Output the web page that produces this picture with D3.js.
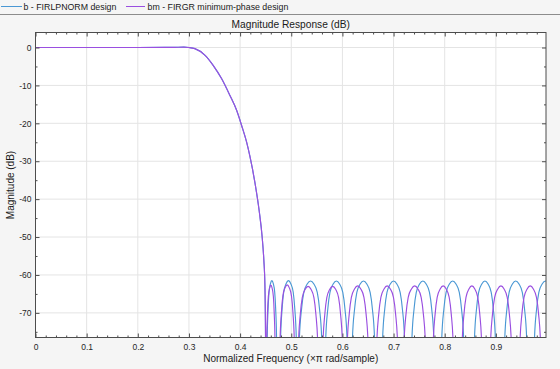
<!DOCTYPE html>
<html><head><meta charset="utf-8">
<script src="https://cdn.jsdelivr.net/npm/d3@7"></script>
<style>
html,body{margin:0;padding:0;background:#f5f5f5;}
svg{display:block;font-family:"Liberation Sans",Arial,Helvetica,sans-serif;}
</style></head><body>
<svg id="c" width="560" height="369"></svg>
<script>
// ---- data ----
const legendLabels = ["b - FIRLPNORM design", "bm - FIRGR minimum-phase design"];
const seriesColors = ["#4a98d4", "#9a4fe0"];

const xMajor = [0, 0.1, 0.2, 0.3, 0.4, 0.5, 0.6, 0.7, 0.8, 0.9];
const xTickLabels = ["0", "0.1", "0.2", "0.3", "0.4", "0.5", "0.6", "0.7", "0.8", "0.9"];
const yMajor = [0, -10, -20, -30, -40, -50, -60, -70];
const yTickLabels = ["0", "-10", "-20", "-30", "-40", "-50", "-60", "-70"];

// passband + transition band (shared by both designs)
const passFreq = [0, 0.1, 0.2, 0.27, 0.29, 0.300, 0.3115, 0.331, 0.3473, 0.3637, 0.3799, 0.393, 0.4028, 0.4126, 0.419, 0.4288, 0.4372, 0.4431, 0.4464, 0.4484, 0.4497, 0.4505];
const passDb   = [0, 0, 0, 0.05, 0.1, 0, -0.3, -2.0, -4.7, -8.2, -12.6, -16.5, -20.5, -24.9, -28.6, -35.5, -43.0, -50.0, -56.1, -62.3, -76.5, -100];

// stopband lobes: peak frequency, peak level, half-width at the plot floor
const bLobeFreq = [0.4621, 0.4945, 0.5377, 0.5882, 0.6412, 0.7000, 0.7573, 0.8156, 0.8786, 0.9388, 0.9969];
const bLobeDb   = [-61.5, -61.5, -61.6, -61.6, -61.6, -61.6, -61.6, -61.6, -61.6, -61.6, -61.6];
const bLobeHalf = [0.0092, 0.0154, 0.0219, 0.0209, 0.0217, 0.0215, 0.0215, 0.0215, 0.0205, 0.0215, 0.0215];

const bmLobeFreq = [0.4601, 0.4920, 0.5329, 0.5810, 0.6298, 0.6875, 0.7413, 0.7970, 0.8531, 0.9099, 0.9672];
const bmLobeDb   = [-62.7, -62.6, -63.0, -63.0, -62.9, -62.9, -62.9, -62.9, -62.9, -62.9, -62.9];
const bmLobeHalf = [0.0082, 0.0141, 0.0190, 0.0192, 0.0205, 0.0205, 0.0211, 0.0196, 0.0192, 0.0205, 0.0203];

// lobe outline measured on one lobe: offset (in half-widths) and drop below peak (dB)
const lobeFrac = [-1.15, -1, -0.8, -0.6, -0.3, 0, 0.3, 0.6, 0.8, 1, 1.15];
const lobeDrop = [40, 15.5, 7.3, 3, 0.8, 0, 0.8, 3, 7.3, 15.5, 40];

// ---- build series ----
function buildSeries(fs, dbs, hws) {
  const pts = passFreq.map((f, i) => [f, passDb[i]]);
  fs.forEach((f, k) => {
    lobeFrac.forEach((u, j) => pts.push([f + u * hws[k], dbs[k] - lobeDrop[j]]));
  });
  return pts;
}
const series = [
  buildSeries(bLobeFreq, bLobeDb, bLobeHalf),
  buildSeries(bmLobeFreq, bmLobeDb, bmLobeHalf)
];

// ---- layout ----
const svg = d3.select("#c");
const L = 35.5, R = 546, T = 32.5, B = 337.5;
const x = d3.scaleLinear().domain([0, 0.998]).range([L, R]);
const y = d3.scaleLinear().domain([-76.5, 3.96]).range([B, T]);

svg.append("rect").attr("width", 560).attr("height", 369).attr("fill", "#f5f5f5");

// legend bar
svg.append("line").attr("x1", 0).attr("x2", 560).attr("y1", 14.5).attr("y2", 14.5)
  .attr("stroke", "#8c8c8c").attr("stroke-width", 1);
const legX = [[1, 22, 23.5], [126, 145, 147.5]];
legendLabels.forEach((t, i) => {
  svg.append("line").attr("x1", legX[i][0]).attr("x2", legX[i][1]).attr("y1", 6.5).attr("y2", 6.5)
    .attr("stroke", seriesColors[i]).attr("stroke-width", 1);
  svg.append("text").attr("x", legX[i][2]).attr("y", 10.3).attr("font-size", 8.8)
    .attr("fill", "#1a1a1a").text(t);
});

// plot background
svg.append("rect").attr("x", L).attr("y", T).attr("width", R - L).attr("height", B - T).attr("fill", "#ffffff");

// grid
const grid = svg.append("g").attr("stroke", "#e4e4e4").attr("stroke-width", 1);
xMajor.forEach(v => { if (v > 0) grid.append("line").attr("x1", x(v)).attr("x2", x(v)).attr("y1", T).attr("y2", B); });
yMajor.forEach(v => grid.append("line").attr("x1", L).attr("x2", R).attr("y1", y(v)).attr("y2", y(v)));

// data lines
svg.append("clipPath").attr("id", "clip").append("rect")
  .attr("x", L).attr("y", T).attr("width", R - L).attr("height", B - T);
const line = d3.line().x(d => x(d[0])).y(d => y(d[1])).curve(d3.curveMonotoneX);
const lines = svg.append("g").attr("clip-path", "url(#clip)");
series.forEach((s, i) => {
  lines.append("path").attr("d", line(s)).attr("fill", "none")
    .attr("stroke", seriesColors[i]).attr("stroke-width", 1.15);
});

// axes
const axCol = "#4d4d4d";
const xMinor = d3.range(0.02, 0.998, 0.02).filter(v => Math.abs(v * 10 - Math.round(v * 10)) > 1e-6);
const yMinor = [-5, -15, -25, -35, -45, -55, -65, -75];

function styleAxis(g) {
  g.select(".domain").remove();
  g.selectAll("line").attr("stroke", axCol);
  g.selectAll("text").attr("fill", "#262626").attr("font-size", 8.5)
    .attr("font-family", '"Liberation Sans",Arial,Helvetica,sans-serif');
}
svg.append("g").attr("transform", `translate(0,${B})`)
  .call(d3.axisBottom(x).tickValues(xMajor).tickSizeInner(-4).tickSizeOuter(0).tickPadding(6)
    .tickFormat((d, i) => xTickLabels[i])).call(styleAxis);
svg.append("g").attr("transform", `translate(0,${B})`)
  .call(d3.axisBottom(x).tickValues(xMinor).tickSizeInner(-2).tickSizeOuter(0).tickFormat("")).call(styleAxis);
svg.append("g").attr("transform", `translate(0,${T})`)
  .call(d3.axisTop(x).tickValues(xMajor).tickSizeInner(-4).tickSizeOuter(0).tickFormat("")).call(styleAxis);
svg.append("g").attr("transform", `translate(0,${T})`)
  .call(d3.axisTop(x).tickValues(xMinor).tickSizeInner(-2).tickSizeOuter(0).tickFormat("")).call(styleAxis);
svg.append("g").attr("transform", `translate(${L},0)`)
  .call(d3.axisLeft(y).tickValues(yMajor).tickSizeInner(-4).tickSizeOuter(0).tickPadding(4)
    .tickFormat((d, i) => yTickLabels[i])).call(styleAxis);
svg.append("g").attr("transform", `translate(${L},0)`)
  .call(d3.axisLeft(y).tickValues(yMinor).tickSizeInner(-2).tickSizeOuter(0).tickFormat("")).call(styleAxis);
svg.append("g").attr("transform", `translate(${R},0)`)
  .call(d3.axisRight(y).tickValues(yMajor).tickSizeInner(-4).tickSizeOuter(0).tickFormat("")).call(styleAxis);
svg.append("g").attr("transform", `translate(${R},0)`)
  .call(d3.axisRight(y).tickValues(yMinor).tickSizeInner(-2).tickSizeOuter(0).tickFormat("")).call(styleAxis);

svg.append("rect").attr("x", L).attr("y", T).attr("width", R - L).attr("height", B - T)
  .attr("fill", "none").attr("stroke", axCol).attr("stroke-width", 1);

// titles
svg.append("text").attr("x", (L + R) / 2).attr("y", 28.3).attr("text-anchor", "middle")
  .attr("font-size", 10.2).attr("fill", "#1a1a1a").text("Magnitude Response (dB)");
svg.append("text").attr("x", (L + R) / 2).attr("y", 361.5).attr("text-anchor", "middle")
  .attr("font-size", 10).attr("fill", "#1a1a1a").text("Normalized Frequency (\u00d7\u03c0 rad/sample)");
svg.append("text").attr("transform", `translate(13.5,${(T + B) / 2}) rotate(-90)`).attr("text-anchor", "middle")
  .attr("font-size", 10).attr("fill", "#1a1a1a").text("Magnitude (dB)");
</script>
</body></html>
